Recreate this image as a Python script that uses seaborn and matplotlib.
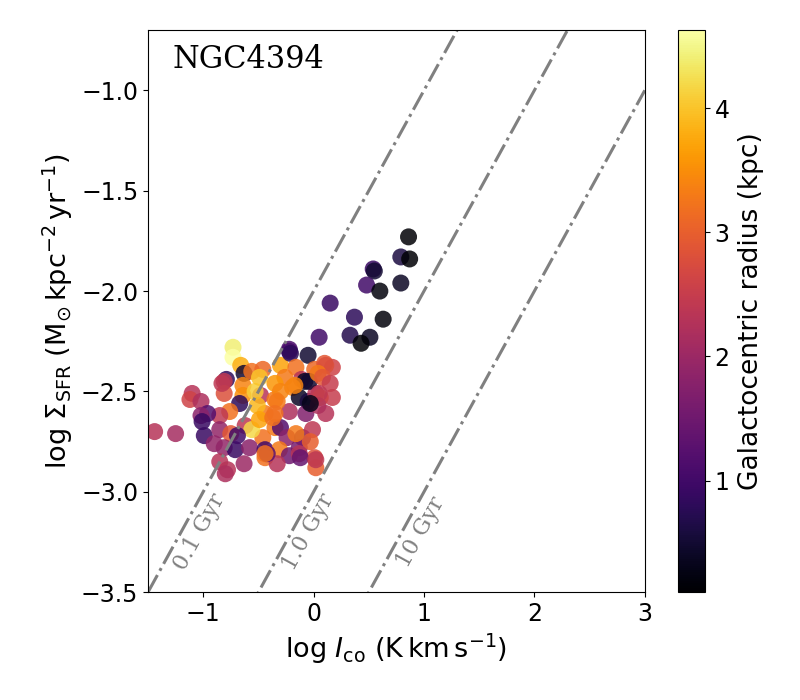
import numpy as np
import pandas as pd
import matplotlib
matplotlib.use("Agg")
import matplotlib.pyplot as plt
import seaborn as sns
from matplotlib.colors import Normalize
from matplotlib.cm import ScalarMappable

# log I_CO (K km/s), log Sigma_SFR, galactocentric radius (kpc)
log_ico = [0.86, 0.79, 0.87, 0.54, 0.55, 0.48, 0.60, 0.79, 0.15, 0.37,
           0.63, 0.33, 0.51, 0.43, 0.05, -0.05, -0.22, -0.73, -0.73, -0.66,
           -0.63, -0.79, -0.81, -0.56, -0.46, -0.30, -0.22, -0.21, -0.16, 0.01,
           0.10, 0.17, -0.11, -0.08, -0.64, -0.81, -1.10, -1.12, -1.02, -0.64,
           -0.48, -0.35, -0.26, -0.19, -0.13, -0.05, 0.02, 0.06, 0.17, -0.67,
           -0.76, -0.85, -0.96, -1.02, -1.01, -0.44, -0.22, -0.07, 0.11, 0.04,
           -1.44, -1.25, -0.99, -0.85, -0.75, -0.62, -0.46, -0.35, -0.30, -0.24,
           -0.10, -0.01, -0.90, -0.81, -0.71, -0.58, -0.44, -0.31, -0.22, -0.13,
           -0.03, 0.01, -0.85, -0.78, -0.63, -0.44, -0.33, -0.13, 0.02, -0.80,
           -0.53, -0.51, -0.56, -0.49, 0.11, -0.04, 0.04, 0.08, 0.15, -0.17,
           -0.35, -0.30, 0.05, -0.03, -0.33, -0.35, -0.37, -0.16, -0.42, -0.12,
           0.02, -0.69, -0.44, -0.83, -0.49]
log_sfr = [-1.73, -1.83, -1.84, -1.89, -1.90, -1.97, -2.00, -1.96, -2.06, -2.13,
           -2.14, -2.22, -2.23, -2.26, -2.23, -2.32, -2.30, -2.28, -2.33, -2.37,
           -2.41, -2.44, -2.45, -2.40, -2.39, -2.37, -2.29, -2.31, -2.38, -2.39,
           -2.36, -2.38, -2.44, -2.45, -2.47, -2.51, -2.51, -2.54, -2.55, -2.52,
           -2.52, -2.54, -2.43, -2.48, -2.53, -2.55, -2.51, -2.53, -2.53, -2.56,
           -2.60, -2.62, -2.61, -2.62, -2.65, -2.61, -2.60, -2.61, -2.61, -2.57,
           -2.70, -2.71, -2.72, -2.69, -2.71, -2.67, -2.73, -2.68, -2.68, -2.73,
           -2.73, -2.69, -2.76, -2.78, -2.79, -2.78, -2.79, -2.79, -2.82, -2.78,
           -2.75, -2.83, -2.85, -2.89, -2.86, -2.83, -2.86, -2.81, -2.88, -2.91,
           -2.50, -2.57, -2.69, -2.64, -2.37, -2.45, -2.41, -2.43, -2.46, -2.47,
           -2.46, -2.50, -2.51, -2.56, -2.55, -2.61, -2.63, -2.71, -2.81, -2.83,
           -2.84, -2.72, -2.81, -2.46, -2.43]
radius = [0.15, 0.6, 0.1, 0.9, 0.5, 1.0, 0.2, 0.4, 0.9, 0.8,
          0.2, 0.7, 0.4, 0.15, 1.0, 0.5, 1.0, 4.4, 4.63, 3.8,
          0.5, 0.8, 2.4, 3.2, 3.1, 3.7, 1.1, 0.8, 3.2, 3.1,
          2.9, 2.6, 2.3, 0.4, 3.4, 2.8, 2.3, 2.6, 2.2, 3.5,
          2.3, 3.3, 3.3, 3.4, 0.4, 0.6, 2.3, 3.1, 2.5, 0.8,
          3.2, 2.4, 1.2, 1.8, 0.9, 3.3, 2.2, 1.7, 2.3, 2.2,
          2.3, 2.1, 0.9, 1.9, 2.9, 2.4, 3.2, 3.3, 1.2, 1.8,
          1.3, 2.4, 1.9, 1.9, 0.9, 1.8, 1.0, 3.3, 1.5, 1.6,
          3.0, 2.8, 2.3, 2.3, 2.0, 3.2, 2.3, 2.3, 3.0, 2.2,
          4.1, 3.9, 4.2, 3.7, 2.8, 0.5, 3.3, 2.9, 2.5, 3.4,
          3.6, 3.4, 2.4, 0.3, 3.3, 3.2, 3.2, 3.3, 1.3, 1.4,
          2.4, 1.0, 3.2, 2.4, 4.0]

# depletion time lines: log Sigma_SFR = log I_CO + offset
tdep_labels = ["0.1 Gyr", "1.0 Gyr", "10 Gyr"]
tdep_offsets = [-2.0, -3.0, -4.0]
label_x = [-1.03, -0.05, 0.97]

df = pd.DataFrame({"ico": log_ico, "sfr": log_sfr, "r": radius})
vmin, vmax = 0.1, 4.63

fig = plt.figure(figsize=(8, 7), dpi=100)
ax = fig.add_axes([0.185, 0.154, 0.621, 0.803])
cax = fig.add_axes([0.848, 0.154, 0.033, 0.803])

sns.scatterplot(data=df, x="ico", y="sfr", hue="r", palette="inferno",
                hue_norm=(vmin, vmax), s=150, alpha=0.85, edgecolor="none",
                legend=False, ax=ax)

ax.set_xlim(-1.5, 3.0)
ax.set_ylim(-3.5, -0.7)

xx = np.array([-1.5, 3.0])
for off in tdep_offsets:
    ax.plot(xx, xx + off, color="gray", linestyle="-.", linewidth=2.2)

# screen angle of a slope-1 line
p0 = ax.transData.transform((0, -3))
p1 = ax.transData.transform((1, -2))
ang = np.degrees(np.arctan2(p1[1] - p0[1], p1[0] - p0[0]))
for lab, lx in zip(tdep_labels, label_x):
    ax.text(lx, -3.2, lab, rotation=ang, color="gray",
            fontsize=16, family="DejaVu Serif", ha="center", va="center")

ax.text(0.05, 0.975, "NGC4394", transform=ax.transAxes, fontsize=22,
        family="DejaVu Serif", ha="left", va="top")

ax.set_xticks([-1, 0, 1, 2, 3])
ax.set_yticks([-3.5, -3.0, -2.5, -2.0, -1.5, -1.0])
ax.tick_params(labelsize=17)
ax.set_xlabel(r"log $I_{\rm co}$ (K$\,$km$\,$s$^{-1}$)", fontsize=19.5)
ax.set_ylabel(r"log $\Sigma_{\rm SFR}$ (M$_{\odot}\,$kpc$^{-2}\,$yr$^{-1}$)", fontsize=19.5)

sm = ScalarMappable(norm=Normalize(vmin, vmax), cmap="inferno")
cb = fig.colorbar(sm, cax=cax)
cb.set_ticks([1, 2, 3, 4])
cb.ax.tick_params(labelsize=17)
cb.set_label("Galactocentric radius (kpc)", fontsize=19, labelpad=6)

fig.savefig("out.png", dpi=100)
